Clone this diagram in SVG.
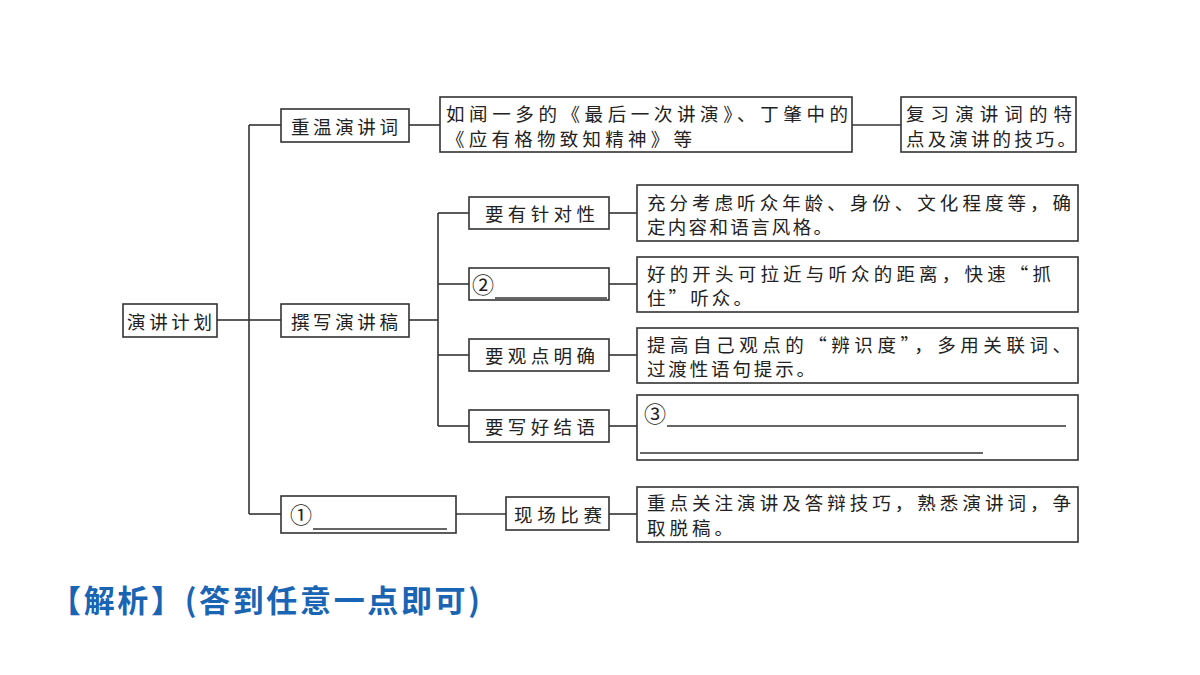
<svg xmlns="http://www.w3.org/2000/svg" width="1200" height="675" viewBox="0 0 1200 675">
<style>
.box{fill:#fff;stroke:#333;stroke-width:1.6}
.c line,.c path{stroke:#333;stroke-width:1.6;fill:none}
.t{font-family:"Noto Sans CJK SC","Noto Sans",sans-serif;font-size:18.5px;fill:#222;dominant-baseline:central}
.num{font-family:"Noto Sans CJK SC","Noto Sans",sans-serif;font-size:22px;fill:#222;dominant-baseline:central}
.u{stroke:#333;stroke-width:1.4}
.ans{font-family:"Noto Sans CJK SC","Noto Sans",sans-serif;font-size:31px;font-weight:bold;fill:#1a64b4;dominant-baseline:central}
</style>
<rect width="1200" height="675" fill="#fff"/>
<g class="c" id="connectors">
<line x1="217" y1="320" x2="249" y2="320"/>
<line x1="249" y1="125" x2="249" y2="514"/>
<line x1="249" y1="125" x2="281" y2="125"/>
<line x1="249" y1="320" x2="281" y2="320"/>
<line x1="249" y1="514" x2="281" y2="514"/>
<line x1="409" y1="125" x2="440" y2="125"/>
<line x1="852" y1="125" x2="901" y2="125"/>
<line x1="409" y1="320" x2="438" y2="320"/>
<line x1="438" y1="213" x2="438" y2="426"/>
<line x1="438" y1="213" x2="469" y2="213"/>
<line x1="438" y1="284" x2="469" y2="284"/>
<line x1="438" y1="355" x2="469" y2="355"/>
<line x1="438" y1="426" x2="469" y2="426"/>
<line x1="609" y1="213" x2="637" y2="213"/>
<line x1="609" y1="284" x2="637" y2="284"/>
<line x1="609" y1="355" x2="637" y2="355"/>
<line x1="609" y1="426" x2="637" y2="426"/>
<line x1="456" y1="514" x2="506" y2="514"/>
<line x1="609" y1="514" x2="637" y2="514"/>
</g>
<g id="root"><rect class="box" x="123" y="304" width="94" height="33"/><text class="t" x="127" y="320.5" textLength="85">演讲计划</text></g>
<g id="n-chongwen"><rect class="box" x="281" y="109" width="128" height="33"/><text class="t" x="291" y="125.5" textLength="107">重温演讲词</text></g>
<g id="n-zhuanxie"><rect class="box" x="281" y="304" width="128" height="33"/><text class="t" x="291" y="320.5" textLength="107">撰写演讲稿</text></g>
<g id="n-blank1"><rect class="box" x="281" y="496" width="175" height="37"/><text class="num" x="290" y="513">①</text><line class="u" x1="313" y1="529" x2="447" y2="529"/></g>
<g id="n-xianchang"><rect class="box" x="506" y="497" width="103" height="33"/><text class="t" x="514" y="513.5" textLength="88">现场比赛</text></g>
<g id="n-example"><rect class="box" x="440" y="97" width="412" height="55"/><text class="t" x="446" y="113" textLength="402">如闻一多的《最后一次讲演》、丁肇中的</text><text class="t" x="446" y="137.5" textLength="246">《应有格物致知精神》等</text></g>
<g id="n-fuxi"><rect class="box" x="901" y="97" width="175" height="55"/><text class="t" x="906" y="113" textLength="166">复习演讲词的特</text><text class="t" x="906" y="137.5" textLength="170">点及演讲的技巧。</text></g>
<g id="n-zhendui"><rect class="box" x="469" y="197" width="140" height="32"/><text class="t" x="485" y="213" textLength="110">要有针对性</text></g>
<g id="n-blank2"><rect class="box" x="469" y="268" width="140" height="32"/><text class="num" x="472" y="283">②</text><line class="u" x1="495" y1="298" x2="607" y2="298"/></g>
<g id="n-guandian"><rect class="box" x="469" y="339" width="140" height="32"/><text class="t" x="485" y="355" textLength="110">要观点明确</text></g>
<g id="n-jieyu"><rect class="box" x="469" y="410" width="140" height="32"/><text class="t" x="485" y="426" textLength="110">要写好结语</text></g>
<g id="d-zhendui"><rect class="box" x="637" y="185" width="441" height="56"/><text class="t" x="647" y="201.5" textLength="424">充分考虑听众年龄、身份、文化程度等，确</text><text class="t" x="647" y="226" textLength="185">定内容和语言风格。</text></g>
<g id="d-kaitou"><rect class="box" x="637" y="257" width="441" height="55"/><text class="t" x="647" y="272.5" textLength="404">好的开头可拉近与听众的距离，快速“抓</text><text class="t" x="647" y="297" textLength="105">住”听众。</text></g>
<g id="d-guandian"><rect class="box" x="637" y="328" width="441" height="55"/><text class="t" x="647" y="343.5" textLength="424">提高自己观点的“辨识度”，多用关联词、</text><text class="t" x="647" y="368" textLength="168">过渡性语句提示。</text></g>
<g id="d-jieyu"><rect class="box" x="637" y="395" width="441" height="65"/><text class="num" x="644" y="412">③</text><line class="u" x1="667" y1="426" x2="1066" y2="426"/><line class="u" x1="640" y1="453" x2="983" y2="453"/></g>
<g id="d-xianchang"><rect class="box" x="637" y="487" width="441" height="55"/><text class="t" x="647" y="502" textLength="424">重点关注演讲及答辩技巧，熟悉演讲词，争</text><text class="t" x="647" y="526.5" textLength="86">取脱稿。</text></g>
<text class="ans" x="50" y="598" textLength="430">【解析】(答到任意一点即可)</text>
</svg>
